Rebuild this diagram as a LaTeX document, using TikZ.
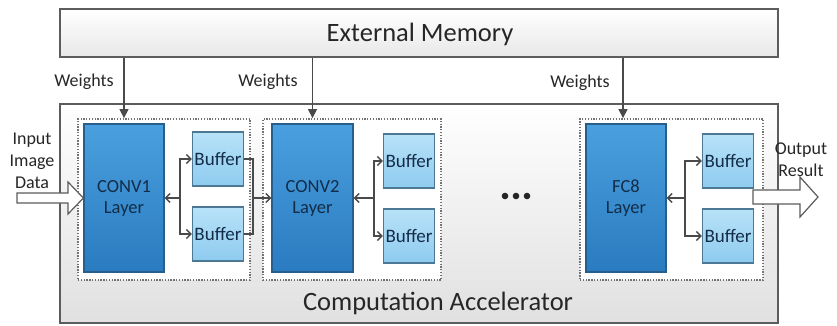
\documentclass[tikz,border=0pt]{standalone}
\usepackage{fontspec}
\setmainfont{Carlito}
\usetikzlibrary{arrows.meta,calc}

\definecolor{layerTop}{HTML}{4AA0DE}
\definecolor{layerBot}{HTML}{2A7BC0}
\definecolor{layerLine}{HTML}{265E8C}
\definecolor{bufTop}{HTML}{B8E2F8}
\definecolor{bufBot}{HTML}{8ECBEF}
\definecolor{bufLine}{HTML}{4C7894}
\definecolor{inkBlue}{HTML}{132C48}
\definecolor{frameLine}{HTML}{5C5C5C}
\definecolor{wire}{HTML}{4A4A4A}
\definecolor{dotLine}{HTML}{727272}

\begin{document}
\begin{tikzpicture}[x=1pt,y=-1pt,
  panel/.style={draw=frameLine, line width=1.6pt, top color=white, bottom color=#1,
                inner sep=0pt},
  groupbox/.style={draw=dotLine, line width=1.8pt, dash pattern=on 1.3pt off 1.5pt,
                   fill=white, inner sep=0pt},
  layerbox/.style={draw=layerLine, line width=1.2pt, top color=layerTop,
                   bottom color=layerBot, minimum width=80pt, minimum height=148pt,
                   inner sep=0pt, align=center, text=inkBlue,
                   font=\fontsize{18.5}{21}\selectfont},
  bufbox/.style={draw=bufLine, line width=1.2pt, top color=bufTop, bottom color=bufBot,
                 minimum width=51pt, minimum height=54pt, inner sep=0pt,
                 text=inkBlue, font=\fontsize{19}{21}\selectfont},
  txt/.style={font=\fontsize{18}{22}\selectfont, text=black!85, align=center, inner sep=0pt},
  bigtxt/.style={font=\fontsize{26.5}{30}\selectfont, text=black!85, inner sep=0pt},
  weightarrow/.style={draw=wire, line width=1.4pt, -{Triangle[length=9pt,width=9pt]}},
  link/.style={draw=wire, line width=1.4pt},
  barb/.style={-{Straight Barb[length=4.5pt,width=9pt,line width=1.4pt]}},
  fatarrow/.style={draw=frameLine, line width=1.2pt, fill=white, line join=miter}
]
\useasboundingbox (0,0) rectangle (837,325);

% memory and accelerator panels
\node[panel=black!9, minimum width=718pt, minimum height=48pt] (mem) at (419,33) {};
\node[bigtxt] (memtxt) at (420,34) {External Memory};
\node[panel=black!12, minimum width=718pt, minimum height=219pt] (acc) at (419,213.5) {};
\node[bigtxt] (acctxt) at (438,303) {Computation Accelerator};

% dotted layer groups
\node[groupbox, minimum width=172pt, minimum height=161pt] (g1) at (164,199.5) {};
\node[groupbox, minimum width=178pt, minimum height=161pt] (g2) at (352,199.5) {};
\node[groupbox, minimum width=183pt, minimum height=161pt] (g3) at (671.5,199.5) {};

% compute layers
\node[layerbox] (c1) at (124,198) {CONV1\\Layer};
\node[layerbox, minimum width=81pt] (c2) at (312.5,198) {CONV2\\Layer};
\node[layerbox] (c3) at (626,198) {FC8\\Layer};

% buffers
\node[bufbox] (b1a) at (218,159) {Buffer};
\node[bufbox] (b1b) at (218,234) {Buffer};
\node[bufbox] (b2a) at (409,161) {Buffer};
\node[bufbox] (b2b) at (409,236) {Buffer};
\node[bufbox] (b3a) at (728,161) {Buffer};
\node[bufbox] (b3b) at (728,236) {Buffer};

% weight transfers from memory
\draw[weightarrow] (mem.south -| c1) -- (g1.north -| c1);
\draw[weightarrow] (mem.south -| c2) -- (g2.north -| c2);
\draw[weightarrow] (mem.south -| 623,0) -- (g3.north -| 623,0);
\node[txt] (w1) at (84,82) {Weights};
\node[txt] (w2) at (268,82) {Weights};
\node[txt] (w3) at (580,83) {Weights};

% layer <-> buffer links
\coordinate (s1) at (180,198);
\coordinate (s2) at (374,198);
\coordinate (s3) at (685,198);
\foreach \s/\c/\ba/\bb in {s1/c1/b1a/b1b, s2/c2/b2a/b2b, s3/c3/b3a/b3b}{
  \draw[link,barb] (\s) -- (\c.east |- \s);
  \draw[link,barb] (\s) |- (\ba.west);
  \draw[link,barb] (\s) |- (\bb.west);
}

% buffers of the first layer feed the second layer
\coordinate (m1) at (253,198);
\draw[link] (b1a.east) -| (m1) |- (b1b.east);
\draw[link,barb] (m1) -- (c2.west);

% ellipsis between layers
\foreach \x in {505,516,527}
  \fill[black!85] (\x,196) circle (3.3pt);

% input and output block arrows
\draw[fatarrow] (17,193) -- (68,193) -- (68,182) -- (c1.west) -- (68,214) -- (68,203)
  -- (17,203) -- cycle;
\draw[fatarrow] (753,190) -- (800,190) -- (800,177) -- (818,197) -- (800,217)
  -- (800,204) -- (753,204) -- cycle;
\node[txt] (intxt) at (32,161) {Input\\Image\\Data};
\node[txt] (outtxt) at (801,160) {Output\\Result};
\end{tikzpicture}
\end{document}
